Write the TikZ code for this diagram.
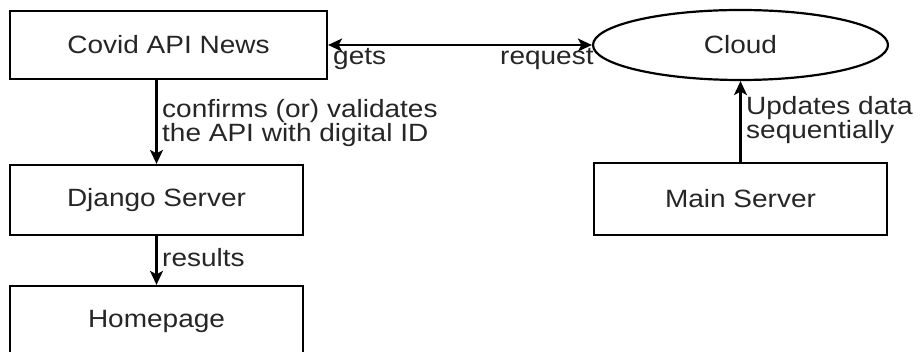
\documentclass[tikz,border=0pt]{standalone}
\usepackage{fontspec}
\setmainfont[FakeStretch=1.12]{Liberation Sans}
\usetikzlibrary{arrows.meta,shapes.geometric}
\begin{document}
\begin{tikzpicture}[x=1pt,y=-1pt,
  txt/.style={font=\fontsize{25}{23}\selectfont, text=black!85},
  box/.style={draw, line width=2.2pt, rectangle, txt},
  tip/.tip={Stealth[length=14pt,width=13pt,inset=3.5pt]},
  arr/.style={line width=2.2pt, -tip},
  lbl/.style={txt, inner sep=0pt, anchor=base west, align=left}]
\useasboundingbox (0,0) rectangle (922,352);
\clip (0,0) rectangle (922,352);
\node[box, minimum width=317pt, minimum height=68pt] (covid) at (168.5,45) {Covid API News};
\node[box, minimum width=293pt, minimum height=70pt] (django) at (156.5,200) {Django Server};
\node[box, minimum width=293pt, minimum height=70pt] (home) at (156.5,321) {Homepage};
\node[box, minimum width=293pt, minimum height=72pt] (main) at (740.5,199) {Main Server};
\node[draw, line width=2.2pt, ellipse, txt, minimum width=295pt, minimum height=70pt, inner sep=0pt] (cloud) at (740.5,45) {Cloud};
\draw[arr] (django.north |- covid.south) -- (django.north);
\draw[arr] (django.south) -- (home.north);
\draw[arr] (main.north) -- (cloud.south);
\draw[line width=2.2pt, tip-tip] (covid.east) -- (cloud.west);
\node[lbl] (lgets) at (333,65) {gets};
\node[lbl] (lreq) at (500,65) {request};
\node[lbl] (lconf) at (162,142) {confirms (or) validates\\the API with digital ID};
\node[lbl] (lres) at (162,267) {results};
\node[lbl] (lupd) at (746,139) {Updates data\\sequentially};
\end{tikzpicture}
\end{document}
